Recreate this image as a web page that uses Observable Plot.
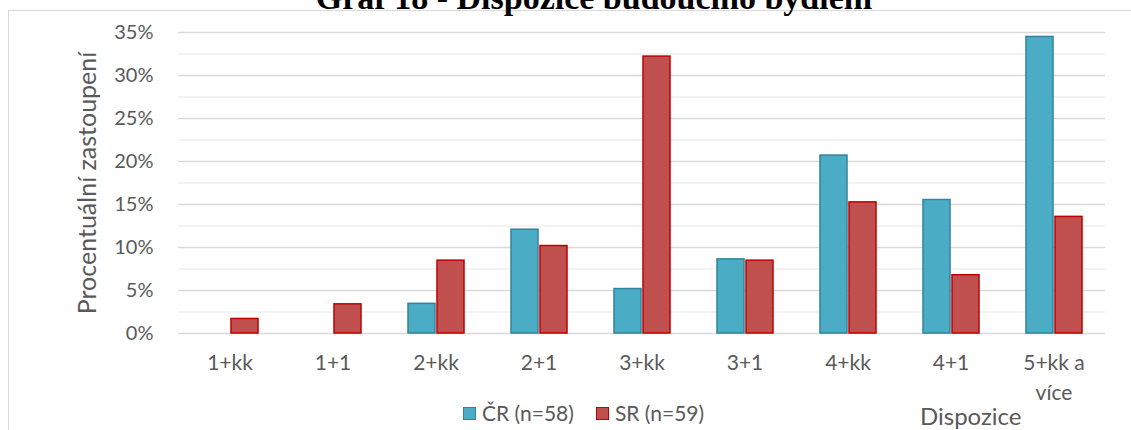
<!DOCTYPE html>
<html>
<head>
<meta charset="utf-8">
<script src="https://cdn.jsdelivr.net/npm/d3@7"></script>
<script src="https://cdn.jsdelivr.net/npm/@observablehq/plot@0.6"></script>
<style>
  body { margin: 0; background: #fff; }
  #wrap { position: relative; width: 1131px; height: 430px; overflow: hidden; font-family: Lato, sans-serif; background: #fff; }
  #frame { position: absolute; left: 8px; top: 10px; width: 1140px; height: 440px; border: 1px solid #d9d9d9; box-sizing: border-box; }
  #chart { position: absolute; left: 0; top: 0; }
  #title { position: absolute; left: 0; width: 1188px; top: -19px; text-align: center; font: bold 34px "Liberation Serif", serif; line-height: 34px; color: #000; white-space: nowrap; }
  #legend { position: absolute; top: 402px; left: 463px; font-size: 21px; line-height: 22px; color: #595959; display: flex; gap: 22px; white-space: nowrap; }
  #legend .item { display: flex; align-items: center; gap: 6px; }
  #legend .sw { width: 13px; height: 13px; box-sizing: border-box; border: 1.5px solid; }
  #xlabel { position: absolute; left: 920px; top: 405px; font-size: 24px; line-height: 22px; color: #595959; white-space: nowrap; }
</style>
</head>
<body>
<div id="wrap">
  <div id="frame"></div>
  <div id="chart"></div>
  <div id="title"></div>
  <div id="legend"></div>
  <div id="xlabel"></div>
</div>
<script>
// ---- data ----
const categories = ["1+kk", "1+1", "2+kk", "2+1", "3+kk", "3+1", "4+kk", "4+1", "5+kk a více"];
const seriesNames = ["ČR (n=58)", "SR (n=59)"];
const crValues = [0, 0, 3.45, 12.07, 5.17, 8.62, 20.69, 15.52, 34.48];
const srValues = [1.69, 3.39, 8.47, 10.17, 32.2, 8.47, 15.25, 6.78, 13.56];
const yTicks = [0, 5, 10, 15, 20, 25, 30, 35];
const yMinorTicks = [2.5, 7.5, 12.5, 17.5, 22.5, 27.5, 32.5];
const titleText = "Graf 18 - Dispozice budoucího bydlení";
const yLabel = "Procentuální zastoupení";
const xLabel = "Dispozice";

// ---- styles ----
const fills = ["#4BACC6", "#C0504D"];
const strokes = ["#31849B", "#C00000"];

const rows = [];
categories.forEach((c, i) => {
  rows.push({cat: c, series: seriesNames[0], value: crValues[i]});
  rows.push({cat: c, series: seriesNames[1], value: srValues[i]});
});

const wrapLabel = d => d === "5+kk a více" ? "5+kk a\nvíce" : d;

const chart = Plot.plot({
  width: 1131,
  height: 430,
  marginLeft: 175,
  marginRight: 23,
  marginTop: 32,
  marginBottom: 97,
  style: {fontFamily: "Lato, sans-serif", fontSize: "20px", color: "#595959", background: "transparent"},
  fx: {domain: categories, padding: 0},
  x: {domain: seriesNames, paddingInner: 0.07, paddingOuter: 0.79, axis: null},
  y: {domain: [0, 35]},
  marks: [
    Plot.ruleY(yMinorTicks, {stroke: "#efefef", strokeWidth: 1.3}),
    Plot.ruleY(yTicks, {stroke: "#d9d9d9", strokeWidth: 1.4}),
    Plot.barY(rows.filter(d => d.series === seriesNames[0] && d.value > 0), {
      fx: "cat", x: "series", y: "value", fill: fills[0], stroke: strokes[0], strokeWidth: 1.5
    }),
    Plot.barY(rows.filter(d => d.series === seriesNames[1] && d.value > 0), {
      fx: "cat", x: "series", y: "value", fill: fills[1], stroke: strokes[1], strokeWidth: 1.5
    }),
    Plot.axisY({
      ticks: yTicks, tickSize: 0, tickPadding: 25, tickFormat: d => d + "%",
      label: yLabel, labelAnchor: "center", labelArrow: "none", labelOffset: 100, fontSize: 20
    }),
    Plot.axisFx({
      anchor: "bottom", tickSize: 0, tickPadding: 16, tickFormat: wrapLabel, label: null, fontSize: 21, lineHeight: 1.4
    })
  ]
});
// enlarge y-axis label
chart.querySelectorAll("g[aria-label='y-axis label'] text").forEach(t => t.setAttribute("font-size", "25"));
document.getElementById("chart").appendChild(chart);

document.getElementById("title").textContent = titleText;
document.getElementById("xlabel").textContent = xLabel;
const legend = document.getElementById("legend");
seriesNames.forEach((s, i) => {
  const item = document.createElement("div");
  item.className = "item";
  const sw = document.createElement("div");
  sw.className = "sw";
  sw.style.background = fills[i];
  sw.style.borderColor = strokes[i];
  const t = document.createElement("span");
  t.textContent = s;
  item.appendChild(sw);
  item.appendChild(t);
  legend.appendChild(item);
});
</script>
</body>
</html>
